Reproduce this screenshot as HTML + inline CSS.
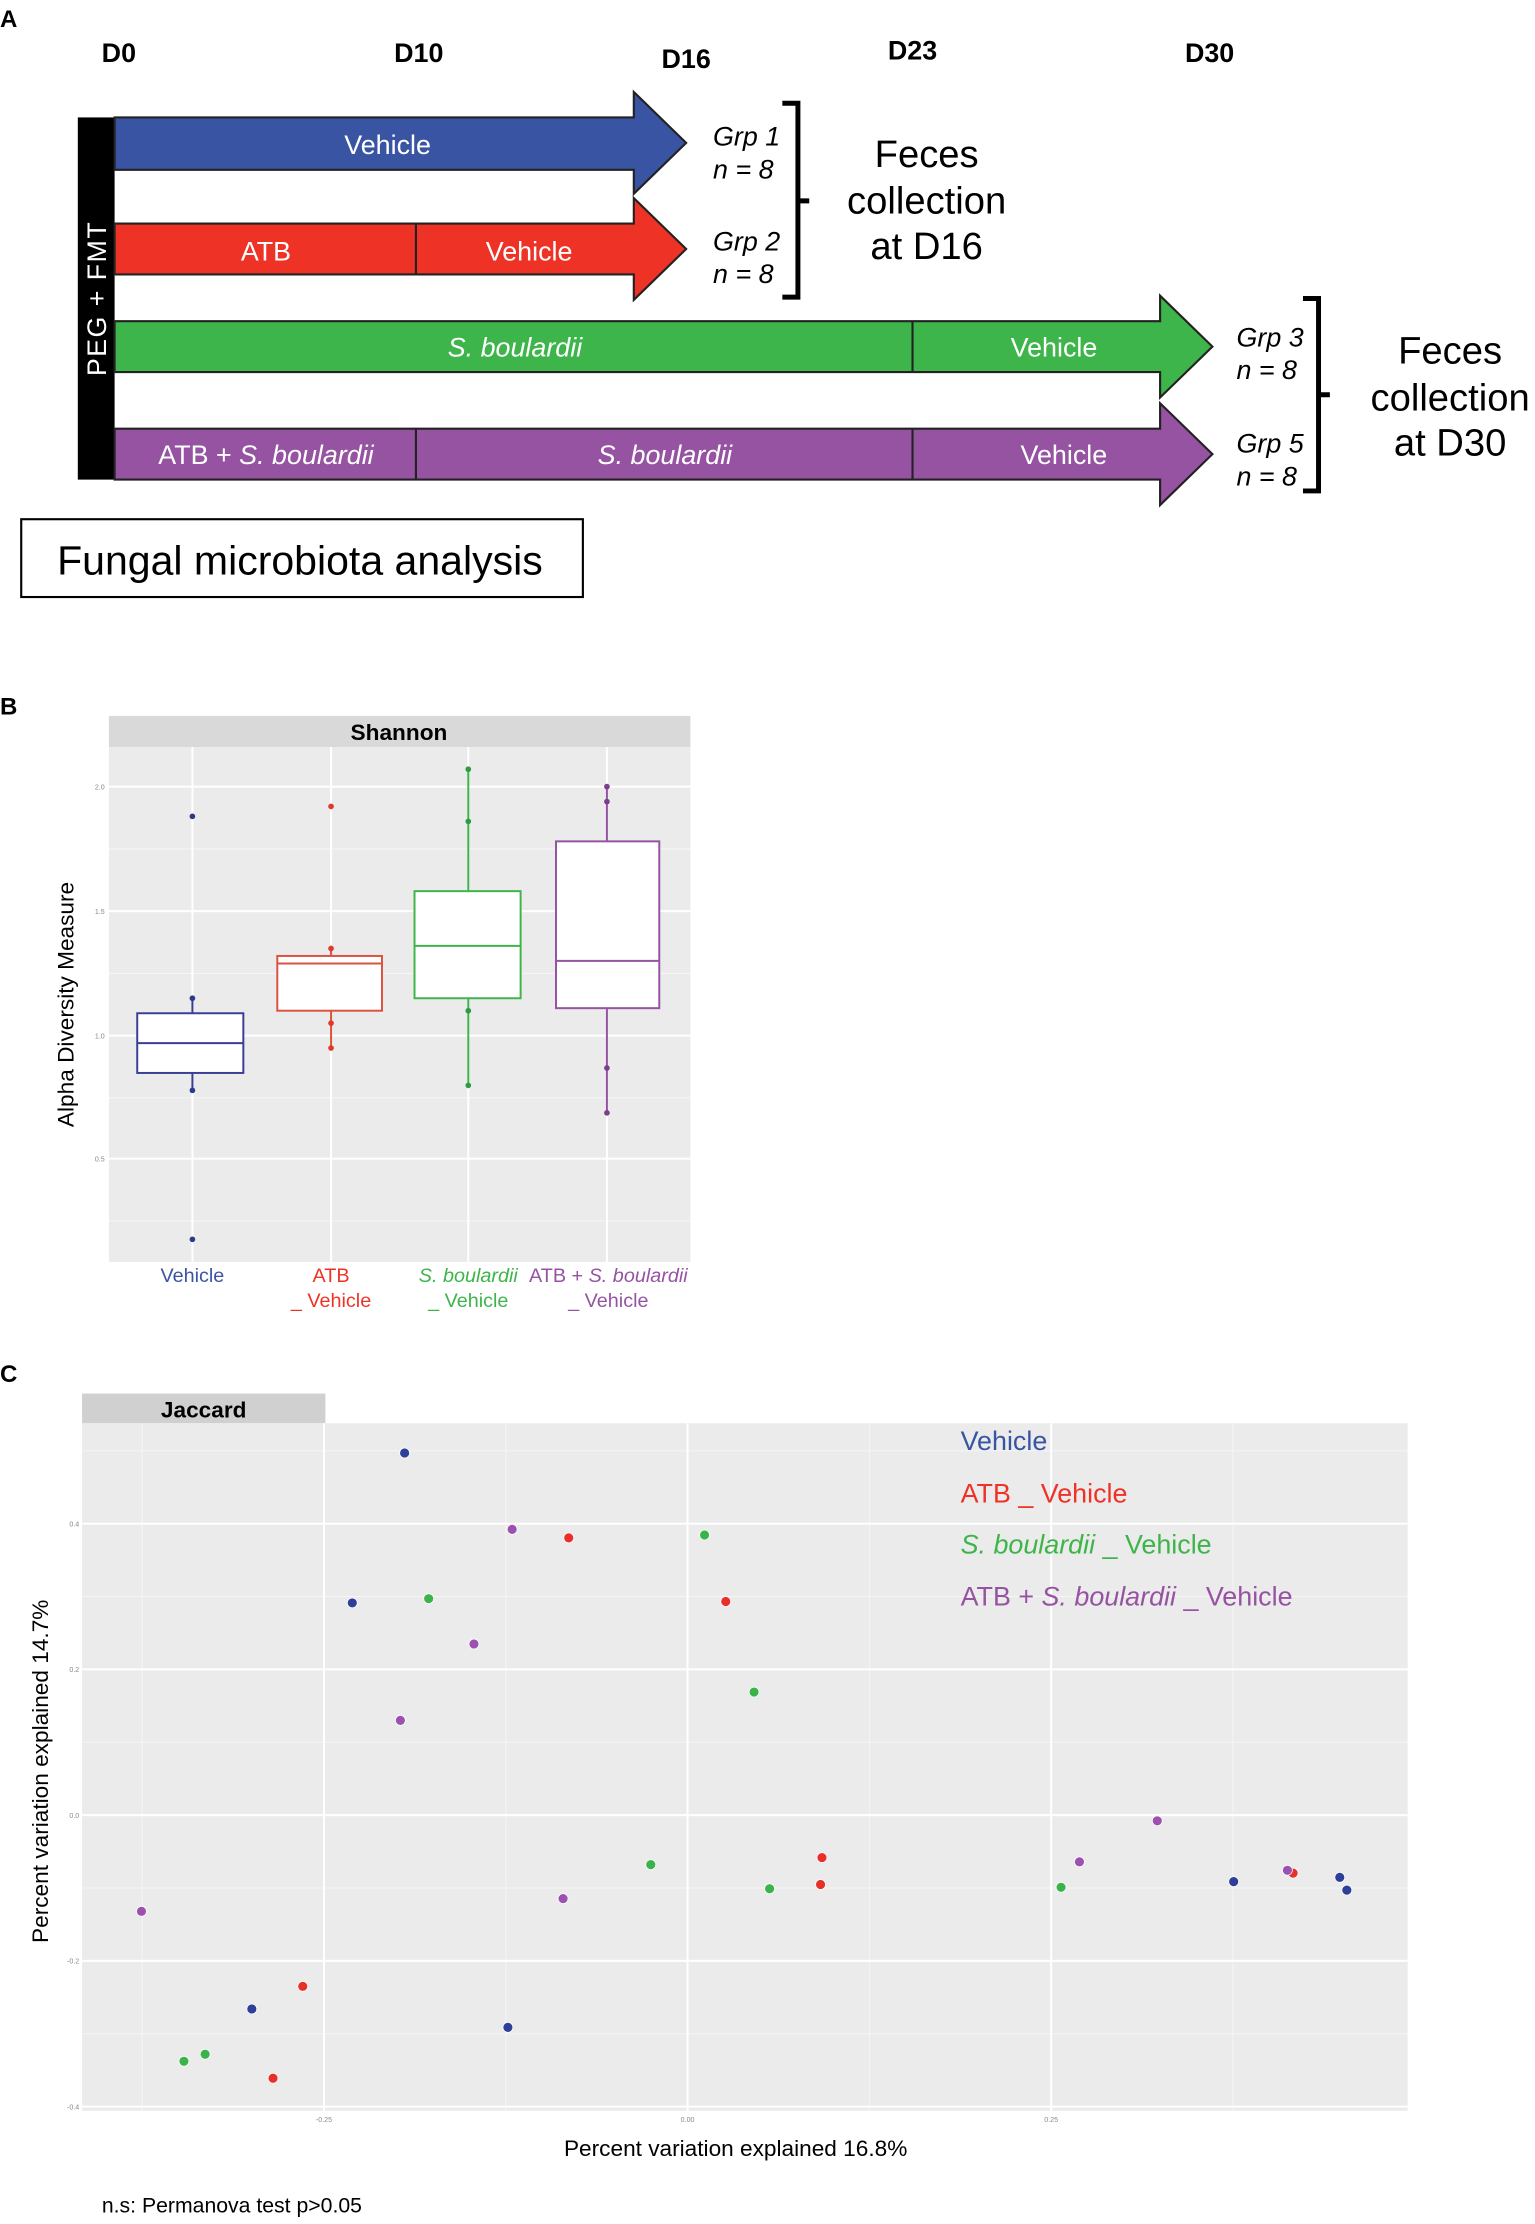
<!DOCTYPE html>
<html><head><meta charset="utf-8"><style>
html,body{margin:0;padding:0;background:#fff;}
svg{display:block;}
text{font-family:"Liberation Sans",sans-serif;}
</style></head><body>
<svg width="1535" height="2224" viewBox="0 0 1085 1572" preserveAspectRatio="none" xmlns="http://www.w3.org/2000/svg">
<!-- Panel A -->
<text x="0" y="19" font-size="17" font-weight="bold">A</text>
<g font-size="19" text-anchor="middle" font-weight="bold">
<text x="84" y="44">D0</text><text x="296" y="44">D10</text><text x="485" y="48">D16</text><text x="645" y="42">D23</text><text x="855" y="44">D30</text>
</g>
<rect x="55" y="83" width="26" height="256" fill="#000"/>
<text transform="translate(75,211) rotate(-90)" font-size="19" fill="#fff" text-anchor="middle" letter-spacing="1">PEG + FMT</text>
<g stroke="#222" stroke-width="1.5">
<polygon points="81,83 448,83 448,65 485,101 448,137 448,120 81,120" fill="#3a54a4"/>
<polygon points="81,158 448,158 448,140 485,176 448,212 448,194 81,194" fill="#ee3326"/>
<polygon points="81,227 820,227 820,209 857,245 820,281 820,263 81,263" fill="#3db54a"/>
<polygon points="81,303 820,303 820,285 857,321 820,357 820,339 81,339" fill="#9553a2"/>
<line x1="294" y1="158" x2="294" y2="194"/>
<line x1="645" y1="227" x2="645" y2="263"/>
<line x1="294" y1="303" x2="294" y2="339"/><line x1="645" y1="303" x2="645" y2="339"/>
</g>
<g fill="#fff" font-size="19" text-anchor="middle">
<text x="274" y="109">Vehicle</text>
<text x="188" y="184">ATB</text><text x="374" y="184">Vehicle</text>
<text x="364" y="252" font-style="italic">S. boulardii</text><text x="745" y="252">Vehicle</text>
<text x="188" y="328">ATB + <tspan font-style="italic">S. boulardii</tspan></text>
<text x="470" y="328" font-style="italic">S. boulardii</text><text x="752" y="328">Vehicle</text>
</g>
<g font-size="19" font-style="italic">
<text x="504" y="103">Grp 1</text><text x="504" y="126">n = 8</text>
<text x="504" y="177">Grp 2</text><text x="504" y="200">n = 8</text>
<text x="874" y="245">Grp 3</text><text x="874" y="268">n = 8</text>
<text x="874" y="320">Grp 5</text><text x="874" y="343">n = 8</text>
</g>
<g fill="none" stroke="#000" stroke-width="3.5">
<path d="M553,73 H564 V210 H553 M564,142 H572"/>
<path d="M921,211 H932 V347 H921 M932,279 H940"/>
</g>
<g font-size="27" text-anchor="middle">
<text x="655" y="118">Feces</text><text x="655" y="151">collection</text><text x="655" y="183">at D16</text>
<text x="1025" y="257">Feces</text><text x="1025" y="290">collection</text><text x="1025" y="322">at D30</text>
</g>
<rect x="15" y="367" width="397" height="55" fill="none" stroke="#000" stroke-width="1.5"/>
<text x="212" y="406" font-size="29" text-anchor="middle">Fungal microbiota analysis</text>

<!-- Panel B -->
<text x="0" y="505" font-size="17" font-weight="bold">B</text>
<rect x="77" y="506" width="411" height="22" fill="#d9d9d9"/>
<text x="282" y="523" font-size="16" font-weight="bold" text-anchor="middle">Shannon</text>
<rect x="77" y="528" width="411" height="364" fill="#ebebeb"/>
<g stroke="#f7f7f7" stroke-width="0.7">
<line x1="77" y1="600" x2="488" y2="600"/><line x1="77" y1="688" x2="488" y2="688"/><line x1="77" y1="776" x2="488" y2="776"/><line x1="77" y1="863" x2="488" y2="863"/>
</g>
<g stroke="#fff" stroke-width="1.4">
<line x1="77" y1="556" x2="488" y2="556"/><line x1="77" y1="644" x2="488" y2="644"/><line x1="77" y1="732" x2="488" y2="732"/><line x1="77" y1="819" x2="488" y2="819"/>
<line x1="136" y1="528" x2="136" y2="892"/><line x1="234" y1="528" x2="234" y2="892"/><line x1="331" y1="528" x2="331" y2="892"/><line x1="429" y1="528" x2="429" y2="892"/>
</g>
<g font-size="5" fill="#888" text-anchor="end">
<text x="74" y="558">2.0</text><text x="74" y="646">1.5</text><text x="74" y="734">1.0</text><text x="74" y="821">0.5</text>
</g>
<!-- boxes -->
<g stroke-width="1.4" fill="#fff">
<g stroke="#3a3f96"><line x1="136" y1="705.6" x2="136" y2="770.7"/><rect x="97" y="716.2" width="75" height="42.2"/><line x1="97" y1="737.3" x2="172" y2="737.3"/></g>
<g stroke="#d9533f"><line x1="234" y1="670.4" x2="234" y2="740.8"/><rect x="196" y="675.7" width="74" height="38.7"/><line x1="196" y1="681" x2="270" y2="681"/></g>
<g stroke="#3db54a"><line x1="331" y1="543.7" x2="331" y2="767.2"/><rect x="293" y="629.9" width="75" height="75.7"/><line x1="293" y1="668.6" x2="368" y2="668.6"/></g>
<g stroke="#9553a2"><line x1="429" y1="556" x2="429" y2="786.6"/><rect x="393" y="594.7" width="73" height="117.9"/><line x1="393" y1="679.2" x2="466" y2="679.2"/></g>
</g>
<g fill="#2d3a8c"><circle cx="136" cy="577" r="2"/><circle cx="136" cy="705.6" r="2"/><circle cx="136" cy="770.7" r="2"/><circle cx="136" cy="876" r="2"/></g>
<g fill="#e0382b"><circle cx="234" cy="570" r="2"/><circle cx="234" cy="670.4" r="2"/><circle cx="234" cy="723.2" r="2"/><circle cx="234" cy="740.8" r="2"/></g>
<g fill="#2e9a44"><circle cx="331" cy="543.7" r="2"/><circle cx="331" cy="580.6" r="2"/><circle cx="331" cy="714.4" r="2"/><circle cx="331" cy="767.2" r="2"/></g>
<g fill="#7a3f8a"><circle cx="429" cy="556" r="2"/><circle cx="429" cy="566.6" r="2"/><circle cx="429" cy="754.9" r="2"/><circle cx="429" cy="786.6" r="2"/></g>
<text transform="translate(52,710) rotate(-90)" font-size="16" text-anchor="middle">Alpha Diversity Measure</text>
<g font-size="14" text-anchor="middle">
<text x="136" y="906" fill="#3a54a4">Vehicle</text>
<text x="234" y="906" fill="#ee3326">ATB</text><text x="234" y="924" fill="#ee3326">_ Vehicle</text>
<text x="331" y="906" fill="#3db54a" font-style="italic">S. boulardii</text><text x="331" y="924" fill="#3db54a">_ Vehicle</text>
<text x="430" y="906" fill="#9553a2">ATB + <tspan font-style="italic">S. boulardii</tspan></text><text x="430" y="924" fill="#9553a2">_ Vehicle</text>
</g>

<!-- Panel C -->
<text x="0" y="977" font-size="17" font-weight="bold">C</text>
<rect x="58" y="985" width="172" height="21" fill="#d0d0d0"/>
<text x="144" y="1002" font-size="16" font-weight="bold" text-anchor="middle">Jaccard</text>
<rect x="58" y="1006" width="937" height="486" fill="#ebebeb"/>
<g stroke="#f5f5f5" stroke-width="0.7">
<line x1="58" y1="1025.5" x2="995" y2="1025.5"/><line x1="58" y1="1128.5" x2="995" y2="1128.5"/><line x1="58" y1="1231.5" x2="995" y2="1231.5"/><line x1="58" y1="1334.5" x2="995" y2="1334.5"/><line x1="58" y1="1437.5" x2="995" y2="1437.5"/>
<line x1="100.5" y1="1006" x2="100.5" y2="1492"/><line x1="357.5" y1="1006" x2="357.5" y2="1492"/><line x1="614.5" y1="1006" x2="614.5" y2="1492"/><line x1="871.5" y1="1006" x2="871.5" y2="1492"/>
</g>
<g stroke="#fff" stroke-width="1.4">
<line x1="58" y1="1077" x2="995" y2="1077"/><line x1="58" y1="1180" x2="995" y2="1180"/><line x1="58" y1="1283" x2="995" y2="1283"/><line x1="58" y1="1386" x2="995" y2="1386"/><line x1="58" y1="1489" x2="995" y2="1489"/>
<line x1="229" y1="1006" x2="229" y2="1492"/><line x1="486" y1="1006" x2="486" y2="1492"/><line x1="743" y1="1006" x2="743" y2="1492"/>
</g>
<g font-size="5" fill="#888" text-anchor="end">
<text x="56" y="1079">0.4</text><text x="56" y="1182">0.2</text><text x="56" y="1285">0.0</text><text x="56" y="1388">-0.2</text><text x="56" y="1491">-0.4</text>
</g>
<g font-size="5" fill="#888" text-anchor="middle">
<text x="229" y="1500">-0.25</text><text x="486" y="1500">0.00</text><text x="743" y="1500">0.25</text>
</g>
<g fill="#2d3f99" stroke="#fff" stroke-width="0.5">
<circle cx="286" cy="1027" r="3.5"/><circle cx="249" cy="1133" r="3.5"/><circle cx="872" cy="1330" r="3.5"/><circle cx="947" cy="1327" r="3.5"/><circle cx="952" cy="1336" r="3.5"/><circle cx="359" cy="1433" r="3.5"/><circle cx="178" cy="1420" r="3.5"/>
</g>
<g fill="#e8302a" stroke="#fff" stroke-width="0.5">
<circle cx="402" cy="1087" r="3.5"/><circle cx="513" cy="1132" r="3.5"/><circle cx="581" cy="1313" r="3.5"/><circle cx="580" cy="1332" r="3.5"/><circle cx="914" cy="1324" r="3.5"/><circle cx="214" cy="1404" r="3.5"/><circle cx="193" cy="1469" r="3.5"/>
</g>
<g fill="#3bb34a" stroke="#fff" stroke-width="0.5">
<circle cx="498" cy="1085" r="3.5"/><circle cx="303" cy="1130" r="3.5"/><circle cx="533" cy="1196" r="3.5"/><circle cx="460" cy="1318" r="3.5"/><circle cx="544" cy="1335" r="3.5"/><circle cx="750" cy="1334" r="3.5"/><circle cx="130" cy="1457" r="3.5"/><circle cx="145" cy="1452" r="3.5"/>
</g>
<g fill="#9c50b0" stroke="#fff" stroke-width="0.5">
<circle cx="362" cy="1081" r="3.5"/><circle cx="335" cy="1162" r="3.5"/><circle cx="283" cy="1216" r="3.5"/><circle cx="398" cy="1342" r="3.5"/><circle cx="100" cy="1351" r="3.5"/><circle cx="818" cy="1287" r="3.5"/><circle cx="763" cy="1316" r="3.5"/><circle cx="910" cy="1322" r="3.5"/>
</g>
<g font-size="19">
<text x="679" y="1025" fill="#3a54a4">Vehicle</text>
<text x="679" y="1062" fill="#ee3326">ATB _ Vehicle</text>
<text x="679" y="1098" fill="#3db54a"><tspan font-style="italic">S. boulardii</tspan> _ Vehicle</text>
<text x="679" y="1135" fill="#9553a2">ATB + <tspan font-style="italic">S. boulardii</tspan> _ Vehicle</text>
</g>
<text x="520" y="1524" font-size="16" text-anchor="middle">Percent variation explained 16.8%</text>
<text transform="translate(34,1252) rotate(-90)" font-size="16" text-anchor="middle">Percent variation explained 14.7%</text>
<text x="72" y="1564" font-size="15">n.s: Permanova test p&gt;0.05</text>
</svg>
</body></html>
